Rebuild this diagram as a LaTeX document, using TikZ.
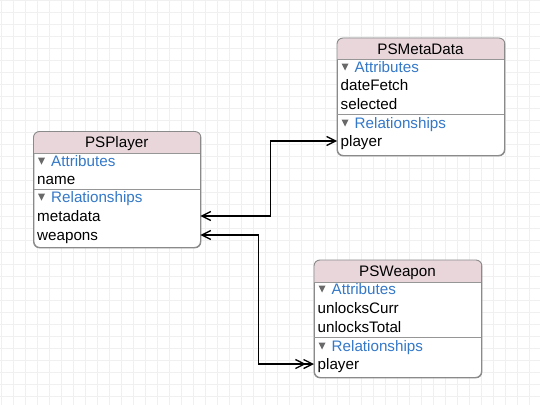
\documentclass[tikz,border=0pt]{standalone}
\usepackage{fontspec}
\setmainfont{Liberation Sans}
\usetikzlibrary{arrows.meta}
\definecolor{hdr}{RGB}{232,214,219}
\definecolor{edge}{RGB}{138,138,138}
\definecolor{attr}{RGB}{52,120,200}
\definecolor{gridc}{RGB}{240,240,240}
\definecolor{tri}{RGB}{105,105,105}
\definecolor{sepc}{RGB}{150,150,150}
\begin{document}
\begin{tikzpicture}[x=1pt,y=-1pt,
  font=\fontsize{15.2}{18}\selectfont,
  entity/.style={fill=white, draw=edge, line width=0.9pt, rounded corners=6pt, anchor=north west, inner sep=0pt},
  outline/.style={draw=edge, line width=0.9pt, rounded corners=6pt},
  sepline/.style={draw=sepc, line width=0.8pt},
  titletext/.style={inner sep=0pt, anchor=base},
  row/.style={anchor=west, inner ysep=0pt, inner xsep=3.5pt, text height=10pt, text depth=0pt, align=left},
  section/.style={anchor=west, inner sep=0pt, text height=10pt, text depth=0pt, text=attr},
  triangle/.style={fill=tri},
  conn/.style={draw=black, line width=1.4pt},
  barb/.tip={Straight Barb[length=9pt,width=9pt,line width=1.3pt]}
]
\useasboundingbox (0,0) rectangle (540,404);
\fill[white] (0,0) rectangle (540,404);
\draw[gridc, line width=0.6pt, step=12pt, shift={(1pt,0pt)}] (-12,-12) grid (552,416);

% ---------- PSPlayer ----------
\node[entity, minimum width=166.5pt, minimum height=115.5pt] (player) at (33.5,131.5) {};
\begin{scope}
  \clip[rounded corners=6pt] (player.north west) rectangle (player.south east);
  \fill[hdr] (player.north west) rectangle (200,153);
\end{scope}
\draw[outline] (player.north west) rectangle (player.south east);
\draw[sepline] (33.5,153) -- (200,153);
\draw[sepline] (33.5,189) -- (200,189);
\node[titletext] (ptitle) at (116.75,147.5) {PSPlayer};
\fill[triangle] (38,157.5) -- (45,157.5) -- (41.5,164.5) -- cycle;
\node[section] (pattr) at (51,161) {Attributes};
\node[row, text width=159.5pt] (pname) at (33.5,179) {name};
\fill[triangle] (38,193.5) -- (45,193.5) -- (41.5,200.5) -- cycle;
\node[section] (prel) at (51,197) {Relationships};
\node[row, text width=159.5pt] (pmeta) at (33.5,216) {metadata};
\node[row, text width=159.5pt] (pweap) at (33.5,235) {weapons};

% ---------- PSMetaData ----------
\node[entity, minimum width=167pt, minimum height=117pt] (meta) at (337,38) {};
\begin{scope}
  \clip[rounded corners=6pt] (meta.north west) rectangle (meta.south east);
  \fill[hdr] (meta.north west) rectangle (504,59);
\end{scope}
\draw[outline] (meta.north west) rectangle (meta.south east);
\draw[sepline] (337,59) -- (504,59);
\draw[sepline] (337,114) -- (504,114);
\node[titletext] (mtitle) at (420.5,54) {PSMetaData};
\fill[triangle] (341.5,63.5) -- (348.5,63.5) -- (345,70.5) -- cycle;
\node[section] (mattr) at (354.5,67) {Attributes};
\node[row, text width=160pt] (mdate) at (337,85) {dateFetch};
\node[row, text width=160pt] (msel) at (337,104) {selected};
\fill[triangle] (341.5,119.5) -- (348.5,119.5) -- (345,126.5) -- cycle;
\node[section] (mrel) at (354.5,123) {Relationships};
\node[row, text width=160pt] (mplayer) at (337,141) {player};

% ---------- PSWeapon ----------
\node[entity, minimum width=167pt, minimum height=117pt] (weap) at (314,260) {};
\begin{scope}
  \clip[rounded corners=6pt] (weap.north west) rectangle (weap.south east);
  \fill[hdr] (weap.north west) rectangle (481,282);
\end{scope}
\draw[outline] (weap.north west) rectangle (weap.south east);
\draw[sepline] (314,282) -- (481,282);
\draw[sepline] (314,337) -- (481,337);
\node[titletext] (wtitle) at (397.5,276.5) {PSWeapon};
\fill[triangle] (318.5,285.5) -- (325.5,285.5) -- (322,292.5) -- cycle;
\node[section] (wattr) at (331.5,289) {Attributes};
\node[row, text width=160pt] (wcurr) at (314,308) {unlocksCurr};
\node[row, text width=160pt] (wtotal) at (314,327) {unlocksTotal};
\fill[triangle] (318.5,342.5) -- (325.5,342.5) -- (322,349.5) -- cycle;
\node[section] (wrel) at (331.5,346) {Relationships};
\node[row, text width=160pt] (wplayer) at (314,364) {player};

% ---------- connectors ----------
\draw[conn, {barb}-{barb}] (pmeta.east) -- ++(70,0) |- (mplayer.west);
\draw[conn, {barb}-{barb[sep=-3pt]barb}] (pweap.east) -- ++(58,0) |- (wplayer.west);
\end{tikzpicture}
\end{document}
